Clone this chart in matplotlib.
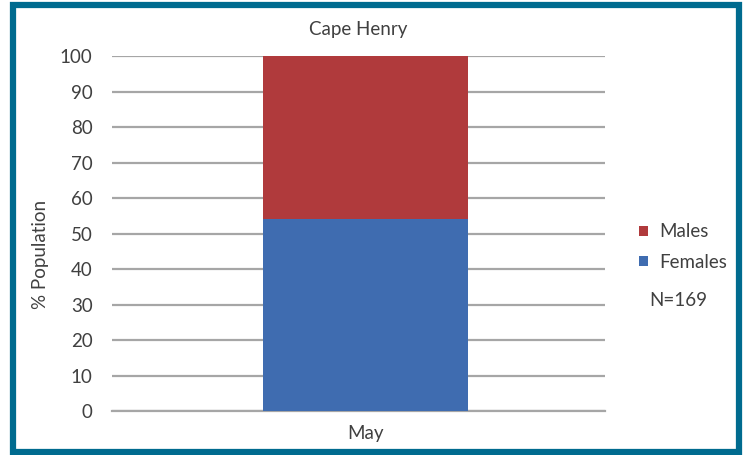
import numpy as np
import matplotlib
matplotlib.use("Agg")
import matplotlib.pyplot as plt
from matplotlib.patches import Rectangle

plt.rcParams["font.family"] = ["Lato", "DejaVu Sans"]

# data
months = ["May"]
females = [54]
males = [46]
series_labels = ["Males", "Females"]
n_label = "N=169"

c_male = "#B03A3C"
c_female = "#3F6CB0"
text_c = "#404040"

fig = plt.figure(figsize=(7.48, 4.55), dpi=100)
ax = fig.add_axes([0.1497, 0.0967, 0.6591, 0.780])

x = np.arange(len(months))
b1 = ax.bar(x, females, width=1.0, color=c_female, zorder=3, label="Females")
b2 = ax.bar(x, males, width=1.0, bottom=females, color=c_male, zorder=3, label="Males")

ax.set_xlim(-1.237, 1.168)
ax.set_ylim(0, 100)
ax.set_yticks(np.arange(0, 101, 10))
ax.set_xticks(x)
ax.set_xticklabels(months)
ax.tick_params(length=0, labelsize=13.5, colors=text_c, pad=14)
ax.tick_params(axis="x", pad=10)
ax.grid(axis="y", color="#A6A6A6", linewidth=1.6, zorder=0)
for s in ["top", "right", "left"]:
    ax.spines[s].set_visible(False)
ax.spines["bottom"].set_color("#A6A6A6")
ax.spines["bottom"].set_linewidth(1.6)
ax.set_ylabel("% Population", fontsize=13.5, color=text_c, labelpad=8, y=0.44)
ax.set_title("Cape Henry", fontsize=13.5, color=text_c, pad=15)

leg = ax.legend([b2, b1], series_labels, loc="center left",
                bbox_to_anchor=(1.035, 0.462), frameon=False, fontsize=13.5,
                handlelength=0.45, handleheight=0.45, handletextpad=0.6,
                labelspacing=0.7, labelcolor=text_c)
fig.text(0.907, 0.34, n_label, ha="center", va="center", fontsize=13.5, color=text_c)

# frame border
fig.patches.append(Rectangle((0.0174, 0.0066), 0.9706, 0.9824, transform=fig.transFigure,
                             fill=False, edgecolor="#006B8F", linewidth=4.5))

fig.savefig("out.png", dpi=100)
